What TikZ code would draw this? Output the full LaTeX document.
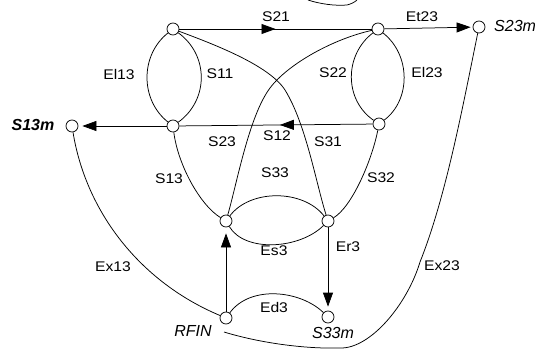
\documentclass[tikz,border=0pt]{standalone}
\usepackage{fontspec}
\setmainfont{Liberation Sans}
\newfontfamily\lblfont[FakeStretch=1.12]{Liberation Sans}
\usetikzlibrary{arrows.meta,decorations.markings}
\begin{document}
\begin{tikzpicture}[x=1pt,y=-1pt,
  vtx/.style={circle,draw,fill=white,minimum size=12pt,inner sep=0pt,line width=0.75pt},
  lbl/.style={font=\lblfont\fontsize{14}{15}\selectfont,inner sep=0pt},
  ilbl/.style={font=\fontsize{16}{17}\selectfont\itshape,inner sep=0pt},
  wire/.style={line width=0.75pt},
  tiparrow/.style={-{Triangle[length=14pt,width=10pt]}},
  midtip/.style={postaction={decorate},decoration={markings,mark=at position #1 with {\arrow{Triangle[length=14pt,width=10pt]}}}}
]
\useasboundingbox (0,0) rectangle (535,353);

% vertices
\node[vtx] (A) at (173,29) {};
\node[vtx] (B) at (378,29) {};
\node[vtx] (S23m) at (479,27) {};
\node[vtx] (C) at (173,126) {};
\node[vtx] (D) at (379,124) {};
\node[vtx] (S13m) at (72,126) {};
\node[vtx] (E) at (226,221) {};
\node[vtx] (F) at (328,221) {};
\node[vtx] (RFIN) at (226,318) {};
\node[vtx] (S33m) at (328,317) {};
\coordinate (exend) at (224,332);

% straight arrows
\draw[wire,midtip=0.5] (A) -- (B);
\draw[wire,tiparrow,shorten >=2pt] (B) -- (S23m);
\draw[wire,midtip=0.48] (D) -- (C);
\draw[wire,tiparrow,shorten >=4pt] (C) -- (S13m);
\draw[wire,tiparrow,shorten >=6pt] (RFIN) -- (E);
\draw[wire,tiparrow,shorten >=4pt] (F) -- (S33m);

% lenses
\draw[wire] (A) .. controls (140,55) and (140,100) .. (C);
\draw[wire] (A) .. controls (209,55) and (209,100) .. (C);
\draw[wire] (B) .. controls (344,55) and (344,100) .. (D);
\draw[wire] (B) .. controls (411,55) and (411,100) .. (D);
\draw[wire] (E) .. controls (250,189) and (303,189) .. (F);
\draw[wire] (E) .. controls (245,253) and (300,249) .. (F);

% crossing curves
\draw[wire] (A) .. controls (213,44) and (269,65) .. (285,90)
               .. controls (306,124) and (316,183) .. (F);
\draw[wire] (B) .. controls (333,39) and (288,64) .. (270,88)
               .. controls (249,116) and (237,183) .. (E);
\draw[wire] (C) .. controls (178,165) and (200,205) .. (E);
\draw[wire] (D) .. controls (372,160) and (352,207) .. (F);

% outer curves
\draw[wire] (S13m) .. controls (86,212) and (140,282) .. (RFIN);
\draw[wire] (RFIN) .. controls (250,285) and (300,290) .. (S33m);
\draw[wire] (S23m) .. controls (463,105) and (446,197) .. (420,262)
               .. controls (407,305) and (370,349) .. (340,348)
               .. controls (305,349) and (260,343) .. (exend);

% stray fragment at the top edge
\draw[wire] (308,0) .. controls (320,4) and (335,6) .. (347,5) .. controls (351,4) and (355,2) .. (357,0);

% labels
\node[lbl] (lS21) at (276,17) {S21};
\node[lbl] (lEt23) at (422,17) {Et23};
\node[lbl] (lEl13) at (119,74) {El13};
\node[lbl] (lS11) at (220,74) {S11};
\node[lbl] (lS22) at (333,73) {S22};
\node[lbl] (lEl23) at (427,72) {El23};
\node[lbl] (lS23) at (222,142) {S23};
\node[lbl] (lS12) at (277,136) {S12};
\node[lbl] (lS31) at (328,142) {S31};
\node[lbl] (lS33) at (275,173) {S33};
\node[lbl] (lS13) at (169,179) {S13};
\node[lbl] (lS32) at (381,178) {S32};
\node[lbl] (lEs3) at (274,251) {Es3};
\node[lbl] (lEr3) at (348,247) {Er3};
\node[lbl] (lEx13) at (113,267) {Ex13};
\node[lbl] (lEx23) at (442,266) {Ex23};
\node[lbl] (lEd3) at (274,307) {Ed3};
\node[ilbl,font=\fontsize{16}{17}\selectfont\bfseries\itshape] (lS13m) at (33,125) {S13m};
\node[ilbl,anchor=west] (lS23m) at (494,26) {S23m};
\node[ilbl] (lRFIN) at (193,331) {RFIN};
\node[ilbl] (lS33m) at (333,333) {S33m};
\end{tikzpicture}
\end{document}
